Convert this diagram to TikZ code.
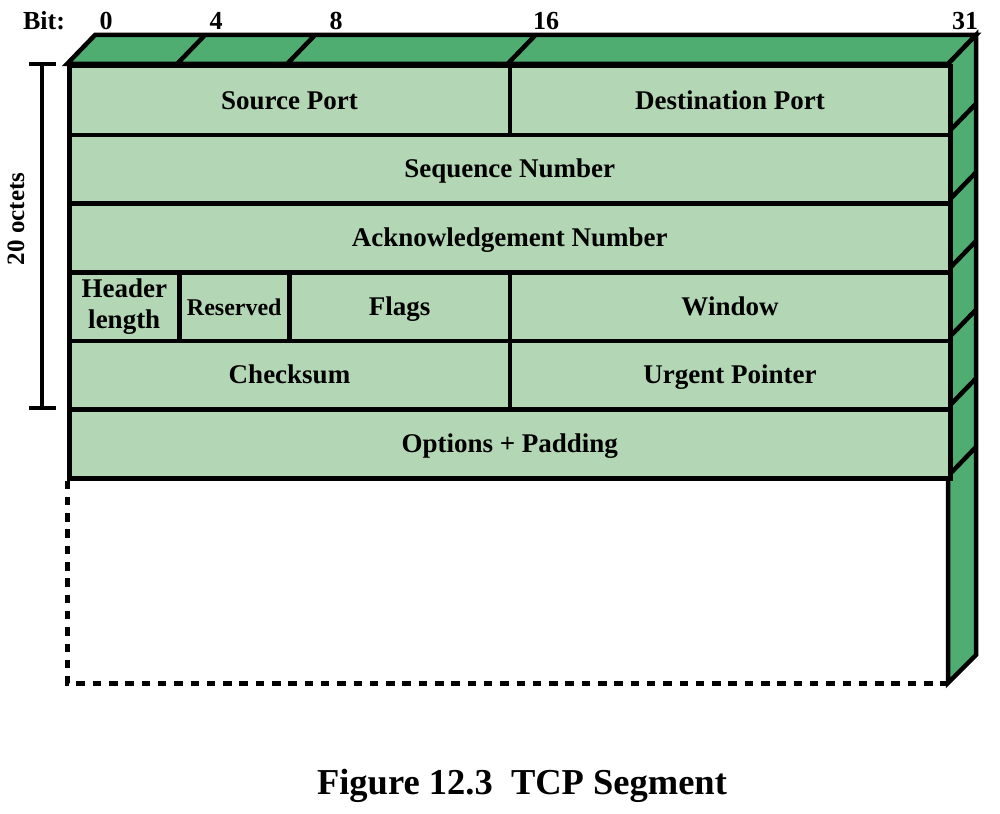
\documentclass[tikz,border=0pt]{standalone}
\usepackage{fontspec}
\setmainfont{Liberation Serif}
\definecolor{lightg}{RGB}{179,214,180}
\definecolor{darkg}{RGB}{80,173,114}
\begin{document}
\begin{tikzpicture}[x=1pt,y=-1pt,line width=4.5pt,line join=miter,
  cell/.style={draw=black,fill=lightg,rectangle,inner sep=0pt,anchor=north west,
    minimum height=68.67pt,font=\fontsize{27}{31}\selectfont\bfseries},
  field/.style={cell,text height=20pt,text depth=3pt},
  bitlbl/.style={inner sep=0pt,font=\fontsize{26}{30}\selectfont\bfseries},
  dashedge/.style={dash pattern=on 8.5pt off 7.8pt,line cap=butt,line width=5pt}]
\useasboundingbox (0,0) rectangle (1000,813);
% top face
\path[draw=black,fill=darkg] (67,64) -- (95,35) -- (976,35) -- (948,64) -- cycle;
\draw (177,64) -- (205,35);
\draw (287,64) -- (315,35);
\draw (507.5,64) -- (535.5,35);
% side face
\path[draw=black,fill=darkg] (948,64) -- (976,35) -- (976,655) -- (948,683) -- cycle;
\foreach \yy in {132.67,201.33,270,338.67,407.33,476}
  \draw (948,\yy) -- (976,\yy-29);
% fields
\node[field,minimum width=440.5pt] (sp) at (67,64) {Source Port};
\node[field,minimum width=440.5pt] (dp) at (507.5,64) {Destination Port};
\node[field,minimum width=881pt] (seq) at (67,132.67) {Sequence Number};
\node[field,minimum width=881pt] (ack) at (67,201.33) {Acknowledgement Number};
\node[cell,minimum width=110pt,align=center] (hl) at (67,270) {Header\\length};
\node[field,minimum width=110pt,font=\fontsize{24}{28}\selectfont\bfseries] (res) at (177,270) {Reserved};
\node[field,minimum width=220.5pt] (flags) at (287,270) {Flags};
\node[field,minimum width=440.5pt] (win) at (507.5,270) {Window};
\node[field,minimum width=440.5pt] (cs) at (67,338.67) {Checksum};
\node[field,minimum width=440.5pt] (up) at (507.5,338.67) {Urgent Pointer};
\node[field,minimum width=881pt] (opt) at (67,407.33) {Options + Padding};
% dashed area
\coordinate (dl) at (67,683);
\coordinate (dr) at (948,683);
\draw[dashedge] (opt.south west) -- (dl) -- (dr);
% bit labels
\node[bitlbl] (bit) at (44,21) {Bit:};
\node[bitlbl] (b0) at (106,21) {0};
\node[bitlbl] (b4) at (216,21) {4};
\node[bitlbl] (b8) at (336,21) {8};
\node[bitlbl] (b16) at (546,21) {16};
\node[bitlbl] (b31) at (965,21) {31};
% bracket
\coordinate (bt) at (42,64);
\coordinate (bb) at (42,408);
\draw[line width=4pt] (bt) -- (bb);
\draw[line width=4pt] (29,64) -- (56,64);
\draw[line width=4pt] (29,408) -- (56,408);
\node[bitlbl,rotate=90,font=\fontsize{25}{29}\selectfont\bfseries] (oct) at (16,219) {20 octets};
% title
\node[inner sep=0pt,font=\fontsize{36.5}{40}\selectfont\bfseries] (title) at (522,786) {Figure 12.3\ \ TCP Segment};
\end{tikzpicture}
\end{document}
